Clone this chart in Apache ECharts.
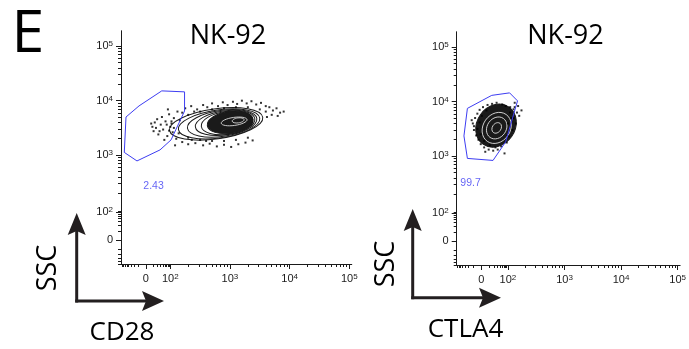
<!DOCTYPE html>
<html>
<head>
<meta charset="utf-8">
<script src="https://cdn.jsdelivr.net/npm/echarts@6/dist/echarts.min.js"></script>
<style>
  html, body { margin: 0; padding: 0; background: #fff; }
  #chart { width: 689px; height: 349px; }
</style>
</head>
<body>
<div id="chart"></div>
<script>
// axes are in decade units (10^k -> k); "0" sits on the linear part of the scale
const xTicksLeft = [1.59, 2, 3, 4, 5];
const xTicksRight = [1.53, 2, 3, 4, 5];
const yTicks = [1.44, 1.95, 3, 4, 5];
const tickLabels = ['0', '10{s|2}', '10{s|3}', '10{s|4}', '10{s|5}'];

const titles = ['NK-92', 'NK-92'];
const xNames = ['CD28', 'CTLA4'];
const yName = 'SSC';

// gates [marker, SSC]
const gateLeft = [[1.857, 4.18], [2.239, 4.162], [2.239, 3.81], [2.013, 3.28], [1.828, 3.096],
  [1.442, 2.893], [1.229, 3.05], [1.258, 3.70], [1.476, 3.904], [1.857, 4.18]];
const gateRight = [[1.284, 3.877], [1.714, 4.116], [2.03, 4.162], [2.17, 4.015], [1.96, 3.261],
  [1.737, 2.921], [1.284, 2.958], [1.223, 3.371], [1.284, 3.877]];
const gateValues = ['2.43', '99.7'];
const gateLabelPos = [[1.72, 2.43], [1.34, 2.50]];

// contour levels: [cx, cy, rx, ry, tilt]
const ringsLeft = [
  [2.768, 3.574, 0.789, 0.276, 8],
  [2.818, 3.574, 0.688, 0.257, 8],
  [2.869, 3.583, 0.587, 0.239, 8],
  [2.919, 3.592, 0.503, 0.221, 8],
  [2.952, 3.592, 0.436, 0.211, 8]
];
const coreLeft = [[3.003, 3.601, 0.386, 0.202, 8]];
const innerLeft = [[3.07, 3.619, 0.218, 0.074, 8], [3.137, 3.638, 0.10, 0.046, 8]];

const ringsRight = [];
const coreRight = [[1.79, 3.56, 0.40, 0.35, 55]];
const innerRight = [[1.802, 3.518, 0.29, 0.25, 55], [1.802, 3.518, 0.205, 0.175, 55],
  [1.802, 3.518, 0.10, 0.08, 55]];

// outlying events
const dotsLeft = [
  [1.70, 3.52], [1.74, 3.60], [1.72, 3.44], [1.78, 3.66], [1.80, 3.38], [1.84, 3.56], [1.86, 3.70],
  [1.88, 3.47], [1.92, 3.62], [1.95, 3.35], [1.98, 3.75], [2.00, 3.52], [2.04, 3.42], [2.06, 3.68],
  [2.10, 3.30], [2.12, 3.80], [1.90, 3.28], [1.76, 3.50], [2.02, 3.58], [1.82, 3.44],
  [2.25, 3.86], [2.35, 3.90], [2.45, 3.84], [2.55, 3.92], [2.62, 3.88], [2.70, 3.95], [2.80, 3.90],
  [2.88, 3.97], [2.96, 3.92], [3.05, 3.98], [3.12, 3.94], [3.20, 4.00], [3.28, 3.95], [3.36, 3.99],
  [3.44, 3.93], [3.52, 3.96], [3.60, 3.90], [2.40, 3.80], [2.20, 3.78],
  [3.66, 3.88], [3.72, 3.82], [3.78, 3.86], [3.84, 3.78], [3.90, 3.80], [3.70, 3.74], [3.62, 3.70],
  [3.80, 3.72],
  [2.20, 3.24], [2.30, 3.20], [2.42, 3.22], [2.55, 3.18], [2.66, 3.21], [2.78, 3.16], [2.90, 3.19],
  [3.02, 3.15], [3.14, 3.20], [3.26, 3.23], [3.38, 3.27], [2.36, 3.28], [2.60, 3.26],
  [1.96, 3.84], [2.08, 3.18], [1.68, 3.58],
  [2.30, 3.74], [2.50, 3.80], [2.70, 3.84], [2.90, 3.86], [3.10, 3.88], [3.30, 3.88], [3.50, 3.84],
  [3.60, 3.80], [2.30, 3.32], [2.50, 3.28], [2.70, 3.26], [2.90, 3.26], [3.10, 3.28], [3.30, 3.32],
  [1.98, 3.45], [2.02, 3.62], [2.06, 3.50], [1.94, 3.56], [2.14, 3.40], [2.16, 3.64]
];
const dotsRight = [
  [1.38, 3.60], [1.40, 3.48], [1.42, 3.70], [1.44, 3.38], [1.46, 3.78], [1.48, 3.30], [1.50, 3.85],
  [1.52, 3.22], [1.56, 3.90], [1.58, 3.16], [1.64, 3.94], [1.66, 3.12], [1.72, 3.96], [1.74, 3.10],
  [1.80, 3.98], [1.82, 3.12], [1.90, 3.95], [1.88, 3.18], [1.96, 3.92], [1.98, 3.25], [2.04, 3.90],
  [2.02, 3.36], [2.10, 3.86], [2.08, 3.48], [2.16, 3.80], [2.14, 3.60], [2.20, 3.74], [2.24, 3.84],
  [2.18, 3.92], [2.12, 3.98], [1.40, 3.55], [1.36, 3.66], [2.06, 3.70], [1.60, 3.08], [1.94, 3.05],
  [1.46, 3.50], [1.50, 3.62], [1.52, 3.40], [1.54, 3.74], [1.62, 3.84], [1.58, 3.28], [2.04, 3.80],
  [2.10, 3.70], [2.12, 3.90], [2.00, 3.60], [1.68, 3.20], [1.78, 3.16]
];

const ink = '#1a1a1a';
const gateBlue = '#3d3df2';
const labelFont = 'Liberation Sans';
const textFont = 'Open Sans';

function minorTicks(zero, lo, hi) {
  const out = [];
  for (let k = 2; k < 6; k++) {
    for (let m = 2; m < 10; m++) {
      const v = k + Math.log10(m);
      if (v < hi) out.push(v);
    }
  }
  const w = 2 - zero;
  for (let m = 1; m < 9; m++) {
    out.push(zero + w * Math.log10(m + 1));
    const neg = zero - w * Math.log10(m + 1);
    if (neg > lo) out.push(neg);
  }
  return out;
}

function labelFor(ticks) {
  return v => {
    const i = ticks.findIndex(t => Math.abs(t - v) < 1e-6);
    return i < 0 ? '' : tickLabels[i];
  };
}

const richSup = { s: { fontSize: 8, fontFamily: labelFont, color: ink, verticalAlign: 'top', lineHeight: 12 } };

function xAxes(gridIndex, ticks, min, max) {
  const base = { type: 'value', gridIndex, min, max, position: 'bottom', splitLine: { show: false },
    axisLine: { lineStyle: { color: ink, width: 1 } } };
  return [
    Object.assign({}, base, {
      axisTick: { show: true, length: 5, customValues: ticks, lineStyle: { color: ink } },
      axisLabel: { show: true, customValues: ticks, formatter: labelFor(ticks), margin: 9,
        fontSize: 11, fontFamily: labelFont, color: ink, rich: richSup, lineHeight: 12 }
    }),
    Object.assign({}, base, {
      axisTick: { show: true, length: 3, customValues: minorTicks(ticks[0], min, max), lineStyle: { color: ink } },
      axisLabel: { show: false }
    })
  ];
}

function yAxes(gridIndex) {
  const base = { type: 'value', gridIndex, min: 1.0, max: 5.28, position: 'left', splitLine: { show: false },
    axisLine: { lineStyle: { color: ink, width: 1 } } };
  return [
    Object.assign({}, base, {
      axisTick: { show: true, length: 5, customValues: yTicks, lineStyle: { color: ink } },
      axisLabel: { show: true, customValues: yTicks, formatter: labelFor(yTicks), margin: 8,
        fontSize: 11, fontFamily: labelFont, color: ink, rich: richSup, lineHeight: 12 }
    }),
    Object.assign({}, base, {
      axisTick: { show: true, length: 3, customValues: minorTicks(yTicks[0], 1.0, 5.28), lineStyle: { color: ink } },
      axisLabel: { show: false }
    })
  ];
}

function ellipseSeries(data, axisIdx, style) {
  return {
    type: 'custom', xAxisIndex: axisIdx, yAxisIndex: axisIdx, silent: true, data,
    renderItem: (params, api) => {
      const c = api.coord([api.value(0), api.value(1)]);
      const s = api.size([api.value(2), api.value(3)]);
      return { type: 'ellipse', x: c[0], y: c[1], rotation: api.value(4) * Math.PI / 180,
        shape: { cx: 0, cy: 0, rx: s[0], ry: s[1] }, style };
    }
  };
}

function panelSeries(axisIdx, gate, labelPos, value, rings, core, inner, dots) {
  return [
    { type: 'scatter', xAxisIndex: axisIdx, yAxisIndex: axisIdx, data: dots, symbol: 'rect',
      symbolSize: 2, itemStyle: { color: '#000' }, silent: true },
    ellipseSeries(rings, axisIdx, { fill: 'none', stroke: ink, lineWidth: 1 }),
    ellipseSeries(core, axisIdx, { fill: ink, stroke: ink, lineWidth: 1 }),
    ellipseSeries(inner, axisIdx, { fill: 'none', stroke: '#e6e6e6', lineWidth: 0.8 }),
    { type: 'line', xAxisIndex: axisIdx, yAxisIndex: axisIdx, data: gate, symbol: 'none',
      lineStyle: { color: gateBlue, width: 1 }, silent: true },
    { type: 'scatter', xAxisIndex: axisIdx, yAxisIndex: axisIdx, symbolSize: 0, silent: true,
      data: [[labelPos[0], labelPos[1], value]],
      label: { show: true, position: 'inside', formatter: p => p.data[2], color: gateBlue,
        fontSize: 10.5, fontFamily: labelFont } }
  ];
}

function arrow(x0, y0, tipUp, tipRight) {
  const c = '#231f20';
  return [
    { type: 'line', shape: { x1: x0, y1: y0 + 1.5, x2: x0, y2: tipUp + 16 }, style: { stroke: c, lineWidth: 3 } },
    { type: 'line', shape: { x1: x0 - 1.5, y1: y0, x2: tipRight - 16, y2: y0 }, style: { stroke: c, lineWidth: 3 } },
    { type: 'polygon', shape: { points: [[x0, tipUp], [x0 + 9, tipUp + 22], [x0, tipUp + 18], [x0 - 9, tipUp + 22]] },
      style: { fill: c } },
    { type: 'polygon', shape: { points: [[tipRight, y0], [tipRight - 22, y0 + 10], [tipRight - 18, y0], [tipRight - 22, y0 - 10]] },
      style: { fill: c } }
  ];
}

const chart = echarts.init(document.getElementById('chart'), null, { renderer: 'canvas' });

chart.setOption({
  animation: false,
  backgroundColor: '#fff',
  grid: [
    { left: 121, top: 31, width: 230.7, height: 233 },
    { left: 456.7, top: 32, width: 225, height: 233 }
  ],
  xAxis: [].concat(xAxes(0, xTicksLeft, 1.174, 5.04), xAxes(1, xTicksRight, 1.095, 5.04)),
  yAxis: [].concat(yAxes(0), yAxes(1)),
  series: [].concat(
    panelSeries(0, gateLeft, gateLabelPos[0], gateValues[0], ringsLeft, coreLeft, innerLeft, dotsLeft),
    panelSeries(2, gateRight, gateLabelPos[1], gateValues[1], ringsRight, coreRight, innerRight, dotsRight)
  ),
  graphic: [].concat(
    [
      { type: 'text', x: 28, y: 35, style: { text: 'E', font: '59px "' + textFont + '"', fill: '#000',
        align: 'center', verticalAlign: 'middle' } },
      { type: 'text', x: 228, y: 36, style: { text: titles[0], font: '27px "' + textFont + '"', fill: '#000',
        align: 'center', verticalAlign: 'middle' } },
      { type: 'text', x: 565.5, y: 36, style: { text: titles[1], font: '27px "' + textFont + '"', fill: '#000',
        align: 'center', verticalAlign: 'middle' } },
      { type: 'text', x: 48, y: 268, rotation: Math.PI / 2, style: { text: yName, font: '27px "' + textFont + '"',
        fill: '#000', align: 'center', verticalAlign: 'middle' } },
      { type: 'text', x: 386, y: 264, rotation: Math.PI / 2, style: { text: yName, font: '27px "' + textFont + '"',
        fill: '#000', align: 'center', verticalAlign: 'middle' } },
      { type: 'text', x: 122, y: 333, style: { text: xNames[0], font: '26px "' + textFont + '"', fill: '#000',
        align: 'center', verticalAlign: 'middle' } },
      { type: 'text', x: 465.5, y: 330, style: { text: xNames[1], font: '26px "' + textFont + '"', fill: '#000',
        align: 'center', verticalAlign: 'middle' } }
    ],
    arrow(76.7, 301, 213, 164),
    arrow(412.7, 297.7, 209, 501)
  )
});
</script>
</body>
</html>
